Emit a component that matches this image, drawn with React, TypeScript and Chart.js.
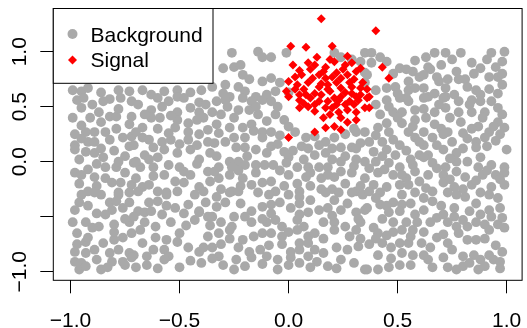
import React, { useEffect, useRef } from "react";
import { Chart, registerables } from "chart.js";

Chart.register(...registerables);

const xTickValues = [-1, -0.5, 0, 0.5, 1];
const xTickLabels = ["\u22121.0", "\u22120.5", "0.0", "0.5", "1.0"];
const yTickValues = [-1, -0.5, 0, 0.5, 1];
const yTickLabels = ["\u22121.0", "", "0.0", "0.5", "1.0"];
const legendLabels = ["Background", "Signal"];

const backgroundTop: [number, number][] = [
  [-0.99,0.65],[-0.95,0.64],[-0.92,0.67],[-0.86,0.63],[-0.78,0.65],[-0.73,0.64],[-0.67,0.65],[-0.63,0.61],[-0.57,0.64],[-0.51,0.65],[-0.45,0.63],[-0.40,0.65],
  [-0.26,0.99],[-0.14,1.00],[-0.12,0.95],[-0.08,0.95],[-0.01,0.99],[-0.30,0.85],[-0.25,0.86],[-0.22,0.88],[-0.21,0.79],[-0.18,0.75],[-0.12,0.73],[-0.08,0.76],[-0.04,0.72],[-0.35,0.68],[-0.29,0.70],[-0.23,0.68],[-0.27,0.59],[-0.15,0.59],[-0.10,0.61],[0.00,0.63],[0.21,0.99],[0.24,0.95],[0.29,0.93],[0.33,0.91],[0.35,0.99],[0.35,0.81],[0.35,0.72],
  [0.38,0.99],[0.38,0.90],[0.45,0.91],[0.36,0.79],[0.51,0.85],[0.54,0.84],[0.57,0.82],[0.63,0.95],[0.67,0.99],[0.72,0.99],[0.79,0.99],[0.64,0.86],[0.65,0.84],[0.60,0.77],[0.68,0.77],[0.69,0.73],[0.77,0.82],[0.78,0.75],[0.84,0.90],[0.81,0.75],[0.82,0.68],[0.92,0.77],[0.96,0.77],[0.93,0.99],[0.99,1.00],[0.98,0.91],[0.98,0.70],[0.40,0.65],[0.45,0.67],[0.49,0.68],[0.55,0.65],[0.62,0.67],[0.72,0.67],[0.76,0.61],[0.86,0.65],[0.88,0.61],[0.72,0.59],[0.54,0.58],[0.64,0.59],
  [0.42,0.95],[0.48,0.80],[0.55,0.73],[0.58,0.92],[0.62,0.79],[0.70,0.88],[0.75,0.93],[0.73,0.75],[0.85,0.80],[0.88,0.85],[0.91,0.93],[0.95,0.86],[0.98,0.80],[0.92,0.66],[0.96,0.62],[0.67,0.62],[0.58,0.67],[0.50,0.62],
  [-0.30,0.62],[-0.20,0.64],[-0.06,0.64],
];

const backgroundMid: [number, number][] = [
  [-0.94,0.58],[-0.82,0.57],[-0.77,0.58],[-0.72,0.55],[-0.60,0.58],[-0.51,0.59],[-0.48,0.58],[-0.41,0.54],[-0.95,0.49],[-0.99,0.40],[-0.87,0.45],[-0.82,0.41],[-0.79,0.41],[-0.72,0.41],[-0.73,0.34],[-0.63,0.47],[-0.58,0.50],[-0.63,0.40],[-0.59,0.40],[-0.51,0.45],[-0.51,0.38],[-0.46,0.35],[-0.41,0.45],[-0.39,0.40],[-0.98,0.25],[-0.93,0.27],[-0.89,0.27],[-0.98,0.15],[-0.92,0.18],[-0.89,0.18],[-0.84,0.27],[-0.82,0.20],[-0.76,0.22],[-0.72,0.23],[-0.67,0.31],[-0.67,0.22],[-0.64,0.20],[-0.73,0.14],[-0.71,0.15],[-0.58,0.18],[-0.54,0.20],[-0.46,0.27],[-0.46,0.20],[-0.41,0.25],[-0.37,0.29],[-0.37,0.18],[-0.98,0.11],[-0.93,0.09],[-0.89,0.08],[-0.85,0.04],[-0.96,0.02],[-0.75,0.05],[-0.66,0.06],[-0.64,0.02],[-0.57,0.11],[-0.51,0.08],[-0.45,0.11],[-0.41,0.02],[-0.79,-0.05],[-0.71,-0.01],[-0.68,-0.05],[-0.62,-0.05],[-0.55,-0.03],[-0.92,-0.07],[-0.98,-0.10],[-0.95,-0.12],[-0.89,-0.14],[-0.84,-0.15],[-0.81,-0.19],[-0.77,-0.19],[-0.72,-0.21],[-0.67,-0.23],[-0.64,-0.21],[-0.57,-0.12],[-0.48,-0.09],[-0.45,-0.12],[-0.37,-0.09],[-0.48,-0.19],[-0.41,-0.23],[-0.92,-0.27],[-0.78,-0.28],[-0.73,-0.28],[-0.56,-0.28],[-0.51,-0.27],[-0.39,-0.27],
  [-0.97,0.56],[-0.90,0.52],[-0.85,0.55],[-0.91,0.40],[-0.86,0.36],[-0.78,0.48],[-0.69,0.52],[-0.66,0.43],[-0.55,0.55],[-0.54,0.42],[-0.45,0.49],[-0.38,0.52],[-0.95,0.33],[-0.79,0.30],[-0.60,0.30],[-0.52,0.31],[-0.42,0.38],
  [-0.95,0.21],[-0.86,0.12],[-0.80,0.10],[-0.70,0.27],[-0.62,0.13],[-0.55,0.26],[-0.50,0.16],[-0.42,0.15],[-0.36,0.08],[-0.70,0.00],[-0.78,0.00],[-0.88,-0.02],[-0.60,0.04],
  [-0.96,-0.20],[-0.88,-0.22],[-0.84,-0.05],[-0.75,-0.10],[-0.70,-0.15],[-0.62,-0.13],[-0.60,-0.27],[-0.52,-0.18],[-0.50,-0.05],[-0.42,-0.02],[-0.36,-0.18],[-0.86,-0.30],
  [-0.33,0.55],[-0.29,0.56],[-0.21,0.58],[-0.17,0.55],[-0.12,0.56],[-0.08,0.55],[-0.35,0.45],[-0.31,0.43],[-0.23,0.47],[-0.18,0.47],[-0.14,0.43],[-0.06,0.43],[-0.02,0.38],[0.00,0.32],[-0.33,0.34],[-0.32,0.26],[-0.27,0.31],[-0.21,0.31],[-0.17,0.34],[-0.12,0.27],[-0.08,0.27],[-0.25,0.22],[-0.20,0.22],[-0.34,0.17],[-0.24,0.13],[-0.20,0.13],[-0.15,0.11],[-0.12,0.22],[-0.08,0.14],[-0.02,0.09],[0.00,0.04],[0.08,0.22],[0.12,0.23],[0.17,0.18],[0.21,0.22],[0.26,0.25],[0.31,0.27],[0.35,0.27],[0.06,0.14],[0.12,0.06],[0.17,0.08],[0.24,0.13],[0.29,0.13],[0.33,0.17],[-0.33,0.05],[-0.27,0.00],[-0.23,0.00],[-0.32,-0.05],[-0.26,-0.05],[-0.20,-0.03],[-0.15,-0.03],[-0.11,-0.03],[-0.07,-0.03],[-0.01,-0.01],[0.09,-0.05],[0.14,-0.05],[0.18,-0.05],[0.24,0.00],[0.31,0.02],[0.35,0.00],[-0.32,-0.15],[-0.27,-0.12],[-0.21,-0.15],[-0.17,-0.21],[-0.12,-0.19],[-0.08,-0.18],[0.00,-0.12],[0.08,-0.14],[0.15,-0.15],[0.21,-0.14],[0.24,-0.09],[0.29,-0.10],[0.35,-0.15],[-0.31,-0.25],[-0.26,-0.27],[-0.06,-0.27],[0.05,-0.27],[0.15,-0.25],[0.20,-0.25],[0.31,-0.27],
  [-0.28,0.50],[-0.25,0.40],[-0.15,0.50],[-0.10,0.37],[-0.05,0.50],[0.30,0.30],
  [-0.29,0.18],[-0.16,0.28],[-0.04,0.24],[-0.05,0.16],[0.03,0.27],[0.02,0.10],[0.09,0.12],[0.14,0.15],[0.20,0.12],[0.26,0.05],[0.31,0.12],[-0.19,0.05],[-0.10,0.08],[0.07,0.02],[0.20,0.02],
  [-0.34,-0.09],[-0.23,-0.08],[-0.15,-0.10],[-0.04,-0.08],[0.04,-0.05],[0.10,-0.10],[0.18,-0.12],[0.30,-0.04],[0.04,-0.20],[0.10,-0.22],[-0.02,-0.22],[0.26,-0.20],[0.33,-0.22],[-0.22,-0.22],
  [0.45,0.56],[0.51,0.58],[0.55,0.55],[0.62,0.58],[0.71,0.58],[0.78,0.55],[0.84,0.56],[0.93,0.55],[0.96,0.49],[0.42,0.43],[0.48,0.45],[0.52,0.45],[0.58,0.47],[0.58,0.38],[0.67,0.45],[0.72,0.49],[0.78,0.45],[0.90,0.45],[0.89,0.40],[0.96,0.36],[0.41,0.31],[0.46,0.27],[0.52,0.35],[0.55,0.27],[0.62,0.27],[0.67,0.34],[0.73,0.27],[0.80,0.26],[0.87,0.32],[0.92,0.27],[0.99,0.31],[0.37,0.18],[0.43,0.18],[0.51,0.15],[0.58,0.22],[0.62,0.15],[0.66,0.22],[0.75,0.18],[0.86,0.18],[0.90,0.22],[0.39,0.09],[0.45,0.11],[0.49,0.06],[0.60,0.06],[0.64,0.06],[0.71,0.11],[0.77,0.08],[0.86,0.13],[0.91,0.14],[1.00,0.11],[0.40,0.00],[0.46,-0.01],[0.51,-0.05],[0.57,-0.03],[0.62,0.04],[0.66,-0.01],[0.72,-0.05],[0.77,0.00],[0.82,0.00],[0.87,-0.05],[0.93,-0.03],[0.99,-0.05],[0.41,-0.10],[0.48,-0.12],[0.54,-0.15],[0.58,-0.09],[0.64,-0.12],[0.71,-0.12],[0.77,-0.09],[0.81,-0.14],[0.89,-0.12],[0.95,-0.12],[0.99,-0.10],[0.39,-0.21],[0.45,-0.23],[0.51,-0.21],[0.55,-0.21],[0.63,-0.24],[0.71,-0.19],[0.76,-0.23],[0.84,-0.21],[0.93,-0.23],[0.99,-0.21],
  [0.40,0.52],[0.46,0.50],[0.50,0.40],[0.62,0.48],[0.63,0.40],[0.69,0.52],[0.74,0.40],[0.79,0.36],[0.84,0.45],[0.83,0.52],[0.88,0.55],[0.98,0.43],[0.94,0.32],[0.45,0.35],[0.57,0.32],[0.70,0.30],[0.84,0.30],
  [0.40,0.24],[0.48,0.20],[0.54,0.10],[0.60,0.18],[0.68,0.15],[0.71,0.25],[0.80,0.12],[0.82,0.21],[0.95,0.19],[0.97,0.25],[0.43,0.05],[0.56,0.02],[0.74,0.03],[0.88,0.04],
  [0.37,-0.06],[0.44,-0.07],[0.52,-0.12],[0.60,-0.18],[0.68,-0.06],[0.74,-0.16],[0.86,-0.17],[0.91,-0.08],[0.97,-0.16],[0.42,-0.28],[0.66,-0.27],[0.88,-0.28],[0.80,-0.25],
];

const backgroundLow: [number, number][] = [
  [-0.95,-0.30],[-0.89,-0.28],[-0.78,-0.30],[-0.69,-0.27],[-0.56,-0.30],[-0.43,-0.30],[-0.96,-0.37],[-0.98,-0.44],[-0.82,-0.37],[-0.79,-0.36],[-0.73,-0.37],[-0.81,-0.44],[-0.69,-0.45],[-0.64,-0.37],[-0.60,-0.36],[-0.52,-0.42],[-0.46,-0.39],[-0.41,-0.45],[-0.38,-0.37],[-0.99,-0.55],[-0.93,-0.55],[-0.84,-0.48],[-0.73,-0.55],[-0.71,-0.50],[-0.66,-0.46],[-0.63,-0.45],[-0.58,-0.48],[-0.54,-0.55],[-0.61,-0.59],[-0.43,-0.53],[-0.41,-0.46],[-0.37,-0.50],[-0.97,-0.65],[-0.87,-0.59],[-0.93,-0.73],[-0.92,-0.69],[-0.85,-0.74],[-0.80,-0.71],[-0.76,-0.69],[-0.72,-0.65],[-0.67,-0.74],[-0.61,-0.69],[-0.56,-0.71],[-0.51,-0.73],[-0.98,-0.82],[-0.93,-0.83],[-0.82,-0.83],[-0.78,-0.80],[-0.73,-0.83],[-0.71,-0.85],[-0.57,-0.80],[-0.55,-0.86],[-0.41,-0.82],[-0.39,-0.78],[-0.98,-0.91],[-0.95,-0.92],[-0.88,-0.89],[-0.81,-0.91],[-0.76,-0.91],[-0.72,-0.87],[-0.65,-0.94],[-0.57,-0.89],[-0.40,-0.92],[-0.96,-0.98],[-0.93,-0.95],[-0.86,-0.98],[-0.75,-0.94],
  [-0.92,-0.40],[-0.88,-0.47],[-0.76,-0.42],[-0.75,-0.52],[-0.66,-0.55],[-0.56,-0.40],[-0.48,-0.47],[-0.47,-0.58],[-0.36,-0.58],[-0.90,-0.60],[-0.80,-0.57],
  [-0.97,-0.75],[-0.89,-0.80],[-0.80,-0.64],[-0.68,-0.62],[-0.62,-0.80],[-0.65,-0.86],[-0.50,-0.65],[-0.46,-0.78],[-0.45,-0.90],[-0.50,-0.96],[-0.60,-0.97],[-0.70,-0.96],[-0.37,-0.68],[-0.83,-0.96],
  [-0.33,-0.32],[-0.27,-0.28],[-0.23,-0.27],[-0.14,-0.28],[-0.09,-0.30],[0.00,-0.30],[0.05,-0.32],[0.10,-0.35],[0.17,-0.28],[0.23,-0.28],[0.29,-0.28],[0.34,-0.30],[-0.33,-0.41],[-0.29,-0.37],[-0.25,-0.50],[-0.17,-0.45],[-0.12,-0.41],[-0.08,-0.39],[-0.04,-0.37],[0.01,-0.42],[0.09,-0.46],[0.14,-0.44],[0.18,-0.42],[0.24,-0.44],[0.31,-0.46],[0.35,-0.44],[-0.31,-0.55],[-0.26,-0.59],[-0.17,-0.55],[-0.10,-0.55],[-0.06,-0.53],[-0.03,-0.59],[0.04,-0.53],[0.07,-0.59],[0.16,-0.55],[0.21,-0.55],[0.26,-0.59],[0.31,-0.62],[0.33,-0.55],[-0.32,-0.65],[-0.27,-0.62],[-0.21,-0.71],[-0.12,-0.65],[-0.08,-0.65],[0.00,-0.64],[0.05,-0.74],[0.09,-0.68],[0.12,-0.65],[0.21,-0.62],[-0.35,-0.78],[-0.31,-0.75],[-0.23,-0.78],[-0.18,-0.82],[-0.13,-0.80],[-0.03,-0.75],[0.01,-0.82],[0.09,-0.74],[0.12,-0.80],[0.22,-0.78],[0.32,-0.77],[-0.32,-0.86],[-0.24,-0.89],[-0.17,-0.87],[-0.10,-0.86],[-0.05,-0.89],[0.01,-0.87],[0.09,-0.86],[0.13,-0.91],[0.18,-0.95],[0.24,-0.89],[-0.30,-0.94],[-0.25,-0.98],[-0.05,-0.98],[0.00,-0.94],[0.05,-0.92],[0.10,-0.96],[0.35,-0.98],
  [-0.22,-0.38],[-0.20,-0.50],[-0.08,-0.47],[0.05,-0.38],[0.05,-0.48],[0.21,-0.35],[0.27,-0.38],[0.20,-0.49],[0.32,-0.52],[-0.12,-0.52],[-0.35,-0.50],
  [-0.27,-0.70],[-0.16,-0.68],[-0.03,-0.68],[0.04,-0.62],[0.16,-0.70],[0.28,-0.68],[0.33,-0.70],[0.27,-0.80],[0.05,-0.80],[-0.09,-0.76],[-0.20,-0.95],[-0.12,-0.93],[0.16,-0.83],[0.22,-0.97],[0.30,-0.92],[-0.35,-0.88],
  [0.37,-0.27],[0.52,-0.30],[0.58,-0.28],[0.62,-0.33],[0.66,-0.36],[0.73,-0.28],[0.77,-0.30],[0.81,-0.32],[0.92,-0.30],[0.96,-0.33],[0.36,-0.42],[0.42,-0.39],[0.48,-0.37],[0.52,-0.39],[0.46,-0.46],[0.51,-0.45],[0.58,-0.48],[0.68,-0.51],[0.71,-0.48],[0.76,-0.50],[0.80,-0.53],[0.83,-0.45],[0.92,-0.44],[0.97,-0.42],[0.93,-0.50],[0.39,-0.60],[0.41,-0.65],[0.48,-0.55],[0.48,-0.64],[0.52,-0.62],[0.57,-0.62],[0.59,-0.55],[0.73,-0.55],[0.77,-0.59],[0.82,-0.59],[0.86,-0.55],[0.90,-0.57],[0.96,-0.57],[0.99,-0.60],[0.37,-0.75],[0.43,-0.74],[0.47,-0.78],[0.51,-0.74],[0.55,-0.74],[0.61,-0.74],[0.68,-0.69],[0.71,-0.66],[0.73,-0.74],[0.82,-0.71],[0.86,-0.71],[0.41,-0.85],[0.52,-0.83],[0.57,-0.85],[0.62,-0.85],[0.64,-0.89],[0.71,-0.87],[0.80,-0.86],[0.85,-0.85],[0.88,-0.89],[0.92,-0.85],[0.94,-0.89],[0.98,-0.82],[0.97,-0.91],[0.36,-0.98],[0.41,-0.98],[0.46,-0.96],[0.51,-0.94],[0.73,-0.96],[0.77,-0.98],[0.80,-0.95],[0.87,-0.98],[0.90,-0.95],
  [0.40,-0.33],[0.45,-0.40],[0.56,-0.38],[0.62,-0.44],[0.65,-0.55],[0.70,-0.40],[0.76,-0.42],[0.86,-0.38],[0.88,-0.48],[0.98,-0.51],[0.43,-0.52],[0.54,-0.55],
  [0.40,-0.70],[0.45,-0.67],[0.56,-0.68],[0.62,-0.64],[0.65,-0.78],[0.75,-0.80],[0.78,-0.65],[0.90,-0.70],[0.95,-0.76],[0.92,-0.62],[0.47,-0.88],[0.56,-0.94],[0.66,-0.96],[0.83,-0.92],[0.97,-0.97],
];

const signal: [number, number][] = [
  [0.15,1.30],[0.01,1.05],[0.08,1.04],[0.20,1.05],[0.02,0.88],[0.09,0.90],[0.13,0.95],[0.17,0.86],[0.21,0.91],[0.26,0.88],[0.31,0.82],[0.33,0.85],[0.06,0.79],[0.10,0.84],[0.14,0.79],[0.17,0.76],[0.22,0.81],[0.27,0.79],[0.00,0.73],[0.04,0.70],[0.09,0.72],[0.14,0.68],[0.18,0.70],[0.24,0.67],[0.29,0.68],[0.33,0.67],[-0.01,0.64],[0.05,0.61],[0.15,0.61],[0.24,0.59],[0.31,0.59],
  [0.40,1.19],[0.43,0.86],[0.46,0.76],[0.37,0.59],
  [0.00,0.59],[0.05,0.56],[0.09,0.50],[0.05,0.49],[0.14,0.55],[0.17,0.49],[0.20,0.49],[0.23,0.56],[0.26,0.52],[0.32,0.56],[0.35,0.49],[0.27,0.47],[0.24,0.40],[0.27,0.36],[0.31,0.38],[0.12,0.27],[0.17,0.31],[0.21,0.32],[0.24,0.29],[0.00,0.22],
  [0.36,0.58],[0.37,0.49],
  [0.12,0.62],[0.19,0.64],[0.22,0.72],[0.28,0.72],[0.11,0.76],[0.20,0.77],[0.25,0.84],[0.16,0.82],[0.07,0.66],[0.03,0.77],[0.12,0.88],[0.29,0.62],[0.21,0.58],[0.26,0.63],[0.18,0.55],[0.10,0.58],[0.30,0.52],[0.33,0.61],[0.28,0.55],[0.07,0.53],[0.12,0.46],[0.19,0.43],[0.22,0.52],[0.15,0.71],[0.24,0.76],[0.30,0.75],[0.34,0.72],[0.08,0.61],[0.03,0.66],[0.19,0.93],[0.29,0.90],[0.12,0.52],[0.16,0.40],[0.23,0.45],[0.31,0.45],[0.05,0.83],[0.36,0.66],[0.27,0.96],[0.18,0.66],
];

const background = [...backgroundTop, ...backgroundMid, ...backgroundLow];

const X_MIN = -1.079, X_MAX = 1.071, Y_MIN = -1.078, Y_MAX = 1.393;
const GRAY = "#A9A9A9";
const RED = "#FF0000";
const FONT = '21px "Liberation Sans", Arial, Helvetica, sans-serif';

const rBasePlot = {
  id: "rBasePlot",
  afterDraw(chart: any) {
    const { ctx, chartArea: a, scales } = chart;
    const xs = scales.x, ys = scales.y;
    ctx.save();
    ctx.strokeStyle = "#000";
    ctx.lineWidth = 1;
    ctx.strokeRect(a.left, a.top, a.right - a.left, a.bottom - a.top);
    ctx.fillStyle = "#000";
    ctx.font = FONT;
    ctx.textAlign = "center";
    ctx.textBaseline = "alphabetic";
    xTickValues.forEach((v, i) => {
      ctx.fillText(xTickLabels[i], xs.getPixelForValue(v), 326.5);
    });
    yTickValues.forEach((v, i) => {
      if (!yTickLabels[i]) return;
      ctx.save();
      ctx.translate(25.5, ys.getPixelForValue(v));
      ctx.rotate(-Math.PI / 2);
      ctx.fillText(yTickLabels[i], 0, 0);
      ctx.restore();
    });
    const lx = a.left, ly = a.top, lw = 213 - a.left, lh = 83.3 - a.top;
    ctx.fillStyle = "#fff";
    ctx.fillRect(lx, ly, lw, lh);
    ctx.strokeStyle = "#000";
    ctx.strokeRect(lx, ly, lw, lh);
    ctx.fillStyle = GRAY;
    ctx.beginPath();
    ctx.arc(72.5, 34, 5, 0, Math.PI * 2);
    ctx.fill();
    ctx.fillStyle = RED;
    ctx.beginPath();
    ctx.moveTo(72.5 - 4.5, 60);
    ctx.lineTo(72.5, 60 - 4.5);
    ctx.lineTo(72.5 + 4.5, 60);
    ctx.lineTo(72.5, 60 + 4.5);
    ctx.closePath();
    ctx.fill();
    ctx.fillStyle = "#000";
    ctx.textAlign = "left";
    ctx.fillText(legendLabels[0], 90.5, 41.7);
    ctx.fillText(legendLabels[1], 90.5, 66.7);
    ctx.restore();
  },
};

export default function App() {
  const ref = useRef<HTMLCanvasElement | null>(null);
  useEffect(() => {
    if (!ref.current) return;
    const chart = new Chart(ref.current, {
      type: "scatter",
      data: {
        datasets: [
          {
            label: legendLabels[0],
            data: background.map(([x, y]) => ({ x, y })),
            pointStyle: "circle",
            pointRadius: 4.9,
            pointBackgroundColor: GRAY,
            pointBorderWidth: 0,
            order: 1,
          },
          {
            label: legendLabels[1],
            data: signal.map(([x, y]) => ({ x, y })),
            pointStyle: "rectRot",
            pointRadius: 4.5,
            pointBackgroundColor: RED,
            pointBorderWidth: 0,
            order: 0,
          },
        ],
      },
      options: {
        animation: false,
        responsive: false,
        devicePixelRatio: 1,
        layout: { padding: { top: 8.5, right: 1.5, left: 0, bottom: 0 } },
        plugins: { legend: { display: false }, tooltip: { enabled: false }, title: { display: false } },
        scales: {
          x: {
            type: "linear",
            min: X_MIN,
            max: X_MAX,
            afterBuildTicks: (s: any) => { s.ticks = xTickValues.map((v) => ({ value: v })); },
            afterFit: (s: any) => { s.height = 328 - 280.3; },
            grid: { drawOnChartArea: false, drawTicks: true, tickLength: 13, color: "#000", lineWidth: 1 },
            border: { display: false },
            ticks: { display: false },
          },
          y: {
            type: "linear",
            min: Y_MIN,
            max: Y_MAX,
            afterBuildTicks: (s: any) => { s.ticks = yTickValues.map((v) => ({ value: v })); },
            afterFit: (s: any) => { s.width = 53.3; },
            grid: { drawOnChartArea: false, drawTicks: true, tickLength: 13, color: "#000", lineWidth: 1 },
            border: { display: false },
            ticks: { display: false },
          },
        },
      },
      plugins: [rBasePlot],
    });
    return () => chart.destroy();
  }, []);
  return (
    <div style={{ position: "fixed", left: 0, top: 0, width: 527, height: 328, background: "#fff" }}>
      <canvas ref={ref} width={527} height={328} style={{ display: "block" }} />
    </div>
  );
}
